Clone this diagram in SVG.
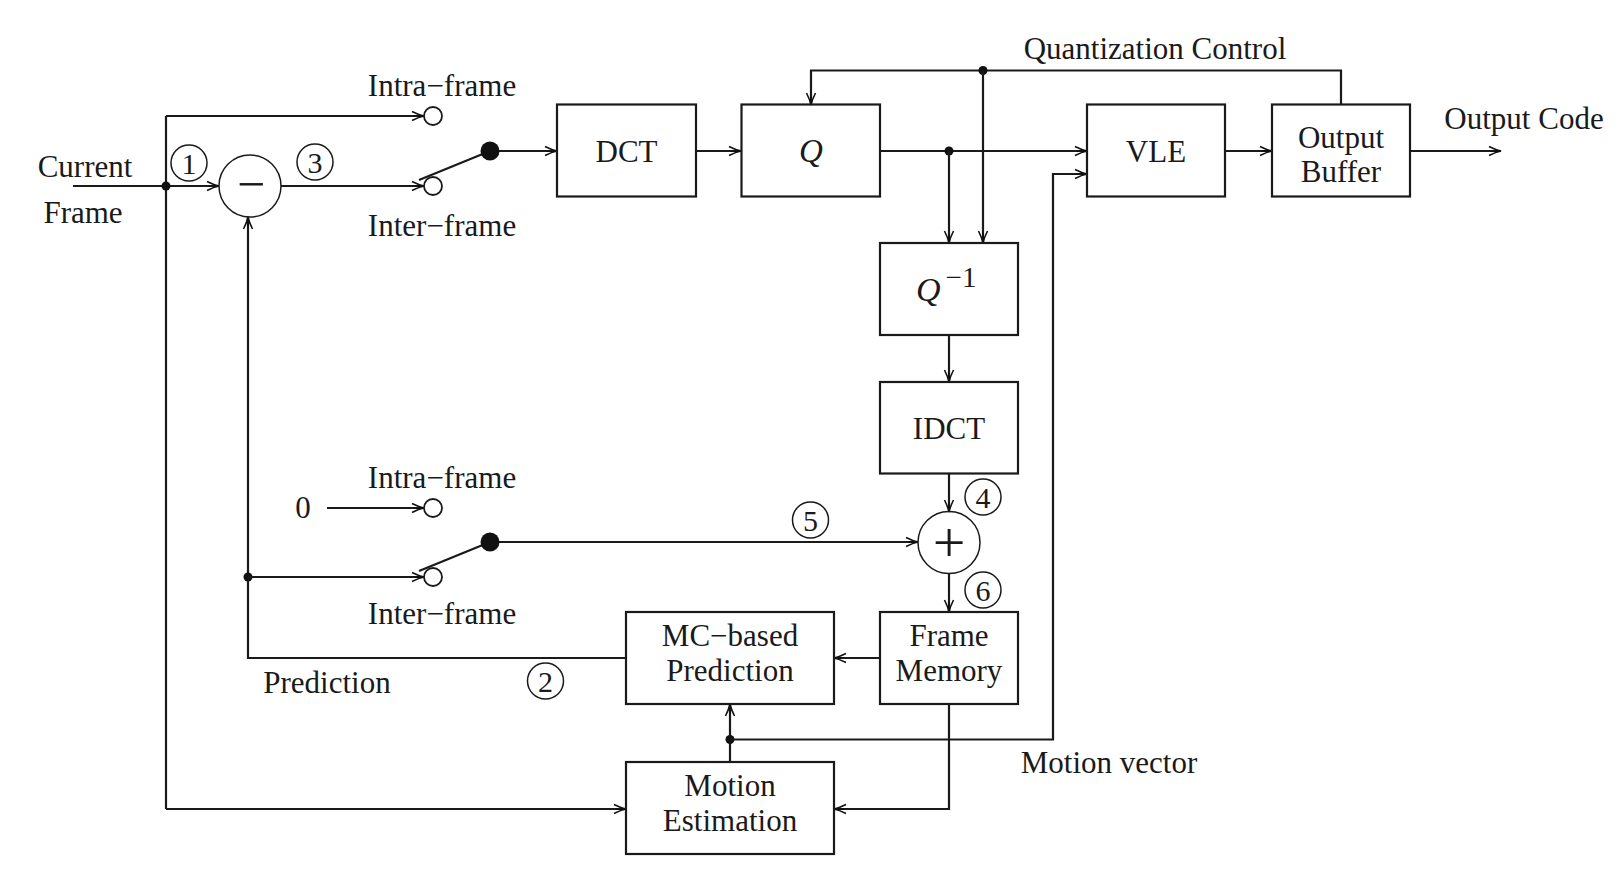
<svg xmlns="http://www.w3.org/2000/svg" width="1623" height="881" viewBox="0 0 1623 881">
<defs>
<marker id="ah" viewBox="-13 -6 15 12" refX="0" refY="0" markerWidth="15" markerHeight="12" markerUnits="userSpaceOnUse" orient="auto" overflow="visible">
<path d="M-12,-4.5 Q-5,-1 0,0 Q-5,1 -12,4.5" fill="none" stroke="#111" stroke-width="1.6"/>
<path d="M-10,0 L0,0" stroke="#111" stroke-width="1.6"/>
</marker>
</defs>
<style>
.box{fill:none;stroke:#1a1a1a;stroke-width:2.2}
.ln{fill:none;stroke:#1a1a1a;stroke-width:2.2}
.ar{fill:none;stroke:#1a1a1a;stroke-width:2.2;marker-end:url(#ah)}
.t{font-family:"Liberation Serif","Times New Roman",serif;font-size:31px;fill:#1a1a1a;text-anchor:middle}
.tl{font-family:"Liberation Serif","Times New Roman",serif;font-size:31px;fill:#1a1a1a}
.it{font-style:italic}
.num{font-family:"Liberation Serif","Times New Roman",serif;font-size:30px;fill:#1a1a1a;text-anchor:middle}
.nc{fill:none;stroke:#1a1a1a;stroke-width:1.5}
.oc{fill:#fff;stroke:#1a1a1a;stroke-width:1.8}
.dot{fill:#111}
</style>
<rect width="1623" height="881" fill="#fff"/>

<g id="connectors">
<path class="ar" d="M73,186 L219,186"/>
<path class="ln" d="M166,809 L166,116"/>
<path class="ar" d="M166,116 L424,116"/>
<path class="ar" d="M166,809 L626,809"/>
<circle class="dot" cx="166" cy="186" r="4.5"/>
<path class="ar" d="M281,186 L424,186"/>
<path class="ln" d="M419,180 L490,151"/>
<path class="ar" d="M490,151 L557,151"/>
<path class="ar" d="M696,151 L741,151"/>
<path class="ar" d="M880,151 L1087,151"/>
<circle class="dot" cx="949" cy="151" r="4.5"/>
<path class="ar" d="M949,151 L949,243"/>
<path class="ar" d="M1341,105 L1341,70.5 L811,70.5 L811,105"/>
<circle class="dot" cx="983" cy="70.5" r="4.5"/>
<path class="ar" d="M983,70.5 L983,243"/>
<path class="ar" d="M1225,151 L1272,151"/>
<path class="ar" d="M1410,151 L1501,151"/>
<path class="ar" d="M949,335 L949,382"/>
<path class="ar" d="M949,473 L949,512"/>
<path class="ar" d="M949,573 L949,612"/>
<path class="ar" d="M880,658 L834,658"/>
<path class="ar" d="M626,658 L248,658 L248,217"/>
<circle class="dot" cx="248" cy="577" r="4.5"/>
<path class="ar" d="M248,577 L424,577"/>
<path class="ar" d="M327,508 L424,508"/>
<path class="ln" d="M419,571 L490,542"/>
<path class="ar" d="M490,542 L918,542"/>
<path class="ar" d="M949,704 L949,809 L834,809"/>
<path class="ar" d="M730,762 L730,704"/>
<circle class="dot" cx="730" cy="739.5" r="4.5"/>
<path class="ar" d="M730,739.5 L1053,739.5 L1053,174 L1087,174"/>
</g>

<g id="switch-top">
<circle class="oc" cx="433" cy="116" r="9"/>
<circle class="oc" cx="433" cy="186" r="9"/>
<circle class="dot" cx="490" cy="151" r="9.5"/>
<text class="t" x="442" y="96">Intra−frame</text>
<text class="t" x="442" y="236">Inter−frame</text>
</g>

<g id="switch-bottom">
<circle class="oc" cx="433" cy="508" r="9"/>
<circle class="oc" cx="433" cy="577" r="9"/>
<circle class="dot" cx="490" cy="542" r="9.5"/>
<text class="t" x="442" y="488">Intra−frame</text>
<text class="t" x="442" y="624">Inter−frame</text>
<text class="t" x="303" y="518">0</text>
</g>

<g id="input-label">
<text class="t" x="85" y="177">Current</text>
<text class="t" x="83" y="223">Frame</text>
</g>

<g id="subtractor">
<circle class="nc" cx="250" cy="186" r="31" stroke-width="1.8"/>
<text class="t" x="251" y="201" style="font-size:50px">−</text>
</g>

<g id="adder">
<circle class="nc" cx="949" cy="542.5" r="31" stroke-width="1.8"/>
<text class="t" x="949" y="562" style="font-size:58px">+</text>
</g>

<g id="dct">
<rect class="box" x="557" y="104.5" width="139" height="92"/>
<text class="t" x="626.5" y="162">DCT</text>
</g>

<g id="q">
<rect class="box" x="741.5" y="104.5" width="138.5" height="92"/>
<text class="t it" x="811" y="162" style="font-size:33px">Q</text>
</g>

<g id="vle">
<rect class="box" x="1087" y="104.5" width="138" height="92"/>
<text class="t" x="1156" y="162">VLE</text>
</g>

<g id="output-buffer">
<rect class="box" x="1272" y="104.5" width="138" height="92"/>
<text class="t" x="1341" y="148">Output</text>
<text class="t" x="1341" y="182">Buffer</text>
</g>

<g id="qinv">
<rect class="box" x="880" y="243" width="138" height="92"/>
<text class="tl" x="916" y="301"><tspan class="it" font-size="34">Q</tspan><tspan font-size="29" dx="5" dy="-14">−1</tspan></text>
</g>

<g id="idct">
<rect class="box" x="880" y="382" width="138" height="91.5"/>
<text class="t" x="949" y="439">IDCT</text>
</g>

<g id="frame-memory">
<rect class="box" x="880" y="612" width="138" height="92"/>
<text class="t" x="949" y="646">Frame</text>
<text class="t" x="949" y="681">Memory</text>
</g>

<g id="mc-prediction">
<rect class="box" x="626" y="612" width="208" height="92"/>
<text class="t" x="730" y="646">MC−based</text>
<text class="t" x="730" y="681">Prediction</text>
</g>

<g id="motion-estimation">
<rect class="box" x="626" y="762" width="208" height="92"/>
<text class="t" x="730" y="796">Motion</text>
<text class="t" x="730" y="831">Estimation</text>
</g>

<g id="labels">
<text class="t" x="1155" y="59">Quantization Control</text>
<text class="t" x="1524" y="129">Output Code</text>
<text class="t" x="327" y="693">Prediction</text>
<text class="t" x="1109" y="773">Motion vector</text>
</g>

<g id="markers">
<circle class="nc" cx="189" cy="163" r="18"/><text class="num" x="189" y="173.5">1</text>
<circle class="nc" cx="315" cy="162" r="18"/><text class="num" x="315" y="172.5">3</text>
<circle class="nc" cx="545.5" cy="681" r="18"/><text class="num" x="545.5" y="691.5">2</text>
<circle class="nc" cx="983" cy="497" r="18"/><text class="num" x="983" y="507.5">4</text>
<circle class="nc" cx="810.5" cy="520" r="18"/><text class="num" x="810.5" y="530.5">5</text>
<circle class="nc" cx="983" cy="590" r="18"/><text class="num" x="983" y="600.5">6</text>
</g>
</svg>
